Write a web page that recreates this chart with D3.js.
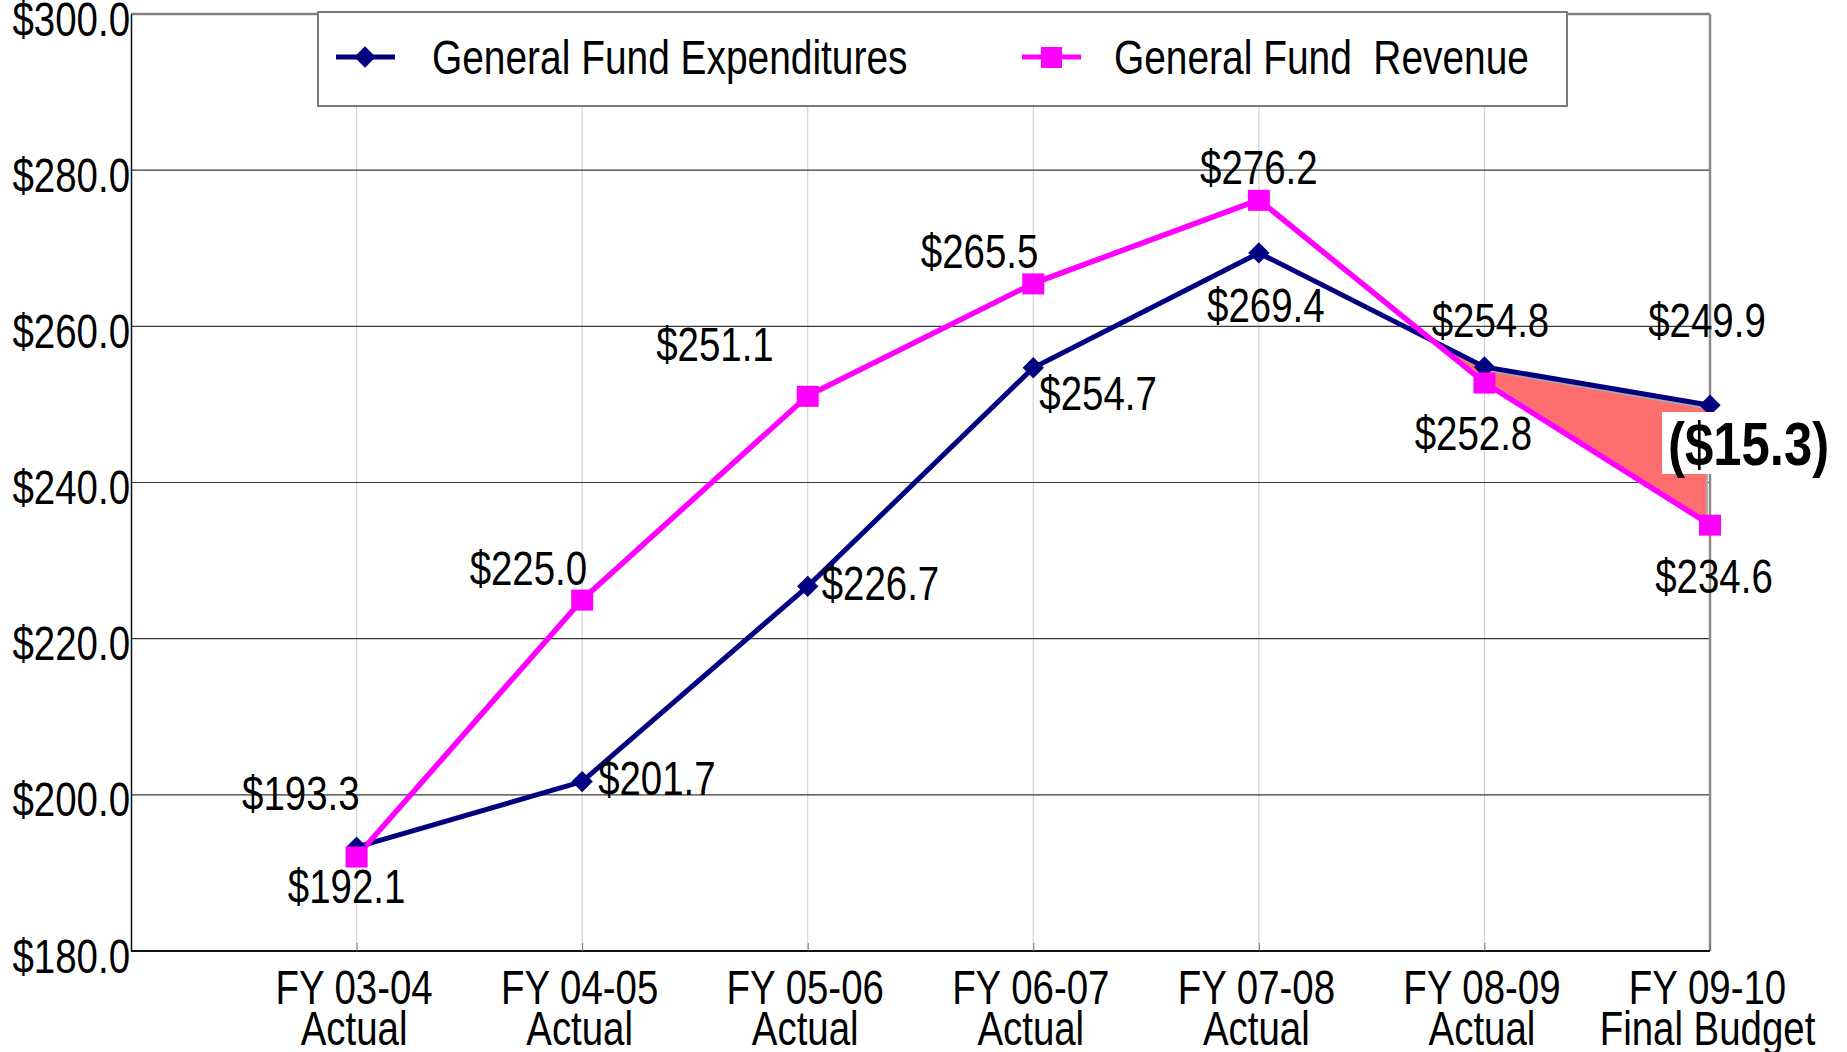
<!DOCTYPE html>
<html><head><meta charset="utf-8">
<script src="https://cdn.jsdelivr.net/npm/d3@7"></script>
<style>
html,body{margin:0;padding:0;background:#fff;}
svg{display:block;font-family:"Liberation Sans",Arial,sans-serif;}
</style></head>
<body>
<svg id="chart" width="1847" height="1052"></svg>
<script>
// ---- data ----
const categories = ["FY 03-04|Actual","FY 04-05|Actual","FY 05-06|Actual","FY 06-07|Actual","FY 07-08|Actual","FY 08-09|Actual","FY 09-10|Final Budget"];
const expenditures = [193.3, 201.7, 226.7, 254.7, 269.4, 254.8, 249.9];
const revenue = [192.1, 225.0, 251.1, 265.5, 276.2, 252.8, 234.6];
const yTicks = [180, 200, 220, 240, 260, 280, 300];
const seriesNames = ["General Fund Expenditures", "General Fund  Revenue"];

// ---- layout (label offsets in px relative to each point) ----
const expLabelPos = [["end",3,-37],["start",16,13],["start",14,14],["start",6,42],["middle",7,69],["middle",6,-30],["middle",-3,-68]];
const revLabelPos = [["middle",-10,46],["end",5,-15],["end",-34,-35],["end",5,-15],["middle",0,-16],["middle",-11,67],["middle",4,68]];

const L = 131, R = 1710, T = 14, B = 951;
const svg = d3.select("#chart");
const step = (R - L) / categories.length;
const x = d3.scalePoint().domain(categories).range([L + step, R]);
const y = d3.scaleLinear().domain([180, 300]).range([B, T]);
const FS = 48;
const SQ = 0.80; // horizontal condensing
const navy = "#000080", mag = "#FF00FF";

function condense(sel, f) {
  sel.each(function(){
    const w = this.getComputedTextLength();
    this.setAttribute("textLength", (w * f).toFixed(1));
    this.setAttribute("lengthAdjust", "spacingAndGlyphs");
  });
}

// vertical gridlines
svg.append("g").selectAll("line").data(categories).join("line")
  .attr("x1", d => x(d)).attr("x2", d => x(d)).attr("y1", T).attr("y2", B)
  .attr("stroke", "#d4d4d4").attr("stroke-width", 1.2);
// horizontal gridlines
svg.append("g").selectAll("line").data(yTicks.filter(v => v > 180 && v < 300)).join("line")
  .attr("x1", L).attr("x2", R).attr("y1", d => y(d)).attr("y2", d => y(d))
  .attr("stroke", "#3a3a3a").attr("stroke-width", 1.2);
// top and right frame
svg.append("line").attr("x1", L).attr("x2", R).attr("y1", T).attr("y2", T).attr("stroke", "#7f7f7f").attr("stroke-width", 2.5);
svg.append("line").attr("x1", R).attr("x2", R).attr("y1", T).attr("y2", B).attr("stroke", "#8a8a8a").attr("stroke-width", 2.5);

// y axis
const yAxis = svg.append("g").attr("transform", `translate(${L},0)`)
  .call(d3.axisLeft(y).tickValues(yTicks).tickFormat(d3.format("$.1f")).tickSize(0).tickPadding(1));
yAxis.select(".domain").attr("stroke", "#111").attr("stroke-width", 1.5);
yAxis.selectAll("text").attr("font-size", FS).attr("fill", "#000").attr("font-family", null)
  .attr("dy", null).attr("y", 21).attr("x", -1);
condense(yAxis.selectAll("text"), SQ);

// x axis
const xAxis = svg.append("g").attr("transform", `translate(0,${B})`)
  .call(d3.axisBottom(x).tickSize(-8).tickFormat(""));
xAxis.select(".domain").attr("stroke", "#111").attr("stroke-width", 2).attr("d", `M${L},0H${R}`);
xAxis.selectAll(".tick line").attr("stroke", "#777");
xAxis.selectAll(".tick").each(function(d){
  const parts = d.split("|");
  const g = d3.select(this);
  parts.forEach((p, k) => {
    g.append("text").attr("x", -3).attr("y", 53 + k * 41).attr("font-size", FS).attr("fill", "#000")
      .attr("text-anchor", "middle").attr("class", "xl").text(p);
  });
});
condense(xAxis.selectAll("text.xl"), SQ);

// deficit fill between crossing and last point
const i0 = 4, i1 = 5;
const d0 = revenue[i0] - expenditures[i0], d1 = revenue[i1] - expenditures[i1];
const tc = d0 / (d0 - d1);
const xc = x(categories[i0]) + tc * (x(categories[i1]) - x(categories[i0]));
const yc = y(expenditures[i0] + tc * (expenditures[i1] - expenditures[i0]));
const n = categories.length - 1;
const poly = [[xc, yc]];
for (let i = i1; i <= n; i++) poly.push([x(categories[i]) - (i === n ? 3 : 0), y(expenditures[i]) + 3]);
for (let i = n; i >= i1; i--) poly.push([x(categories[i]) - (i === n ? 3 : 0), y(revenue[i]) - 3]);
svg.append("path").attr("d", d3.line()(poly) + "Z")
  .attr("fill", "#FF6E6E").attr("stroke", "#aaaaaa").attr("stroke-width", 2);

// lines
const line = d3.line().x((d, i) => x(categories[i])).y(d => y(d));
svg.append("path").datum(expenditures).attr("d", line).attr("fill", "none").attr("stroke", navy).attr("stroke-width", 5);
svg.append("path").datum(revenue).attr("d", line).attr("fill", "none").attr("stroke", mag).attr("stroke-width", 5.5);

// markers
svg.append("g").selectAll("path").data(expenditures).join("path")
  .attr("transform", (d, i) => `translate(${x(categories[i])},${y(d)})`)
  .attr("d", d3.symbol(d3.symbolDiamond2, 290)).attr("fill", navy);
svg.append("g").selectAll("rect").data(revenue).join("rect")
  .attr("x", (d, i) => x(categories[i]) - 11).attr("y", d => y(d) - 10)
  .attr("width", 22).attr("height", 21).attr("fill", mag);

// value labels
const fmt = v => "$" + v.toFixed(1);
function addLabels(vals, pos) {
  const s = svg.append("g").selectAll("text").data(vals).join("text")
    .attr("x", (d, i) => x(categories[i]) + pos[i][1])
    .attr("y", (d, i) => y(d) + pos[i][2])
    .attr("text-anchor", (d, i) => pos[i][0])
    .attr("font-size", FS).attr("fill", "#000").text(fmt);
  condense(s, SQ);
}
addLabels(expenditures, expLabelPos);
addLabels(revenue, revLabelPos);

// deficit callout
const gap = revenue[n] - expenditures[n];
svg.append("rect").attr("x", 1662).attr("y", 412).attr("width", 185).attr("height", 62).attr("fill", "#fff");
const callout = svg.append("text").attr("x", 1668).attr("y", 465).attr("font-size", 62).attr("font-weight", "bold")
  .attr("fill", "#000").text("($" + Math.abs(gap).toFixed(1) + ")");
condense(callout, 0.82);

// legend
const lg = svg.append("g");
lg.append("rect").attr("x", 318).attr("y", 12).attr("width", 1249).attr("height", 94)
  .attr("fill", "#fff").attr("stroke", "#7a7a7a").attr("stroke-width", 2);
const legendItems = [{name: seriesNames[0], color: navy, sym: "d", x0: 336, tx: 432},
                     {name: seriesNames[1], color: mag, sym: "s", x0: 1022, tx: 1114}];
legendItems.forEach(it => {
  lg.append("line").attr("x1", it.x0).attr("x2", it.x0 + 59).attr("y1", 57).attr("y2", 57)
    .attr("stroke", it.color).attr("stroke-width", 5);
  if (it.sym === "d") lg.append("path").attr("transform", `translate(${it.x0 + 29},57)`)
    .attr("d", d3.symbol(d3.symbolDiamond2, 290)).attr("fill", it.color);
  else lg.append("rect").attr("x", it.x0 + 19).attr("y", 47).attr("width", 21).attr("height", 21).attr("fill", it.color);
  const t = lg.append("text").attr("x", it.tx).attr("y", 74).attr("font-size", FS).attr("fill", "#000")
    .style("white-space", "pre").text(it.name);
  condense(t, 0.81);
});
</script>
</body></html>
